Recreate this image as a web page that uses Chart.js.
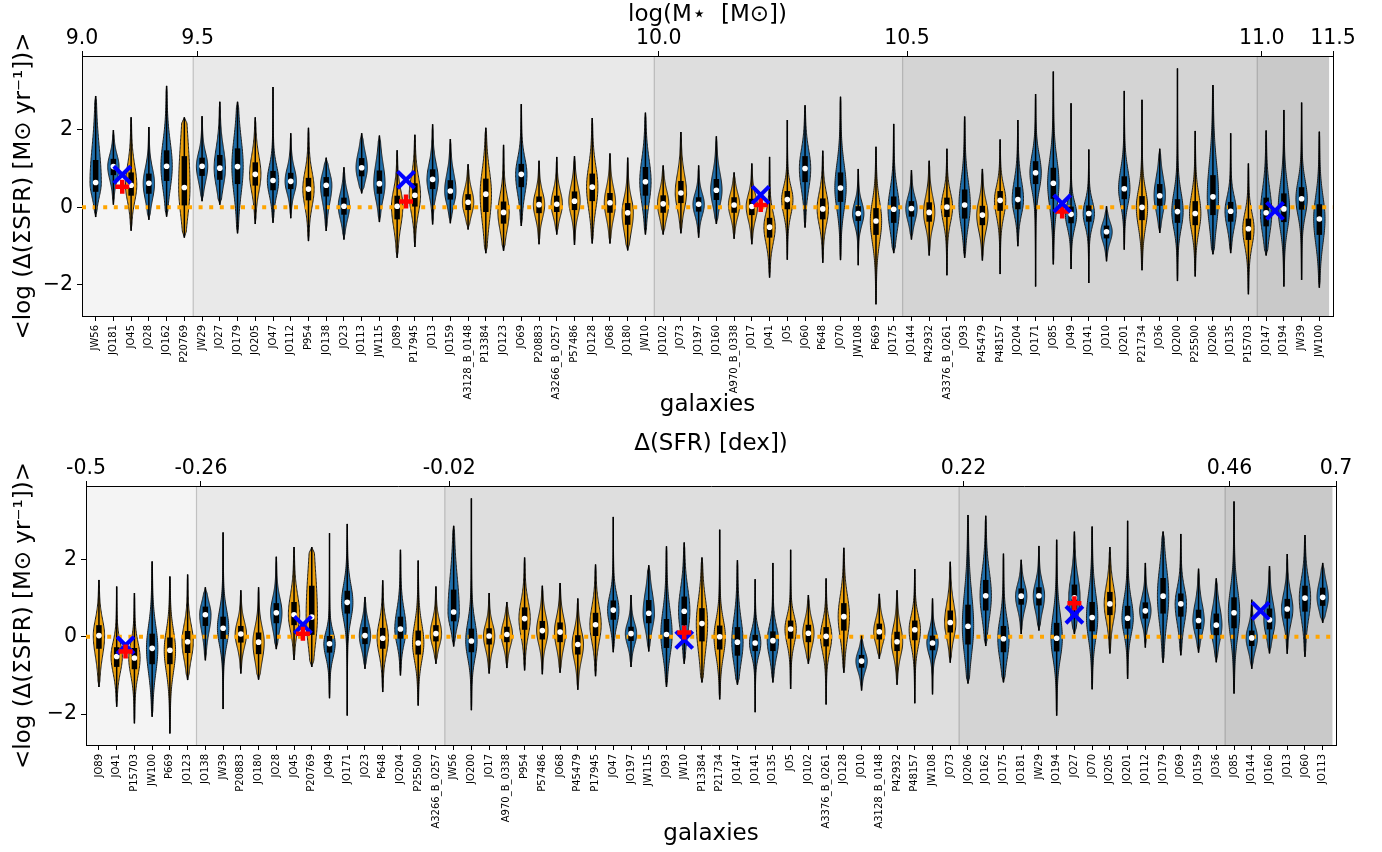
<!DOCTYPE html>
<html><head><meta charset="utf-8">
<script src="https://cdn.jsdelivr.net/npm/chart.js@4"></script>
<style>
html,body{margin:0;padding:0;background:#fff;overflow:hidden;}
#c1{position:absolute;left:0;top:0;}
#c2{position:absolute;left:0;top:425px;}
</style></head>
<body>
<canvas id="c1" width="1382" height="425"></canvas>
<canvas id="c2" width="1382" height="427"></canvas>
<script>
// ---------- DATA ----------
// galaxies ordered by stellar mass (top panel)
const galaxies = ['JW56','JO181','JO45','JO28','JO162','P20769','JW29','JO27','JO179','JO205','JO47','JO112','P954','JO138','JO23','JO113','JW115','JO89','P17945','JO13','JO159','A3128_B_0148','P13384','JO123','JO69','P20883','A3266_B_0257','P57486','JO128','JO68','JO180','JW10','JO102','JO73','JO197','JO160','A970_B_0338','JO17','JO41','JO5','JO60','P648','JO70','JW108','P669','JO175','JO144','P42932','A3376_B_0261','JO93','P45479','P48157','JO204','JO171','JO85','JO49','JO141','JO10','JO201','P21734','JO36','JO200','P25500','JO206','JO135','P15703','JO147','JO194','JW39','JW100'];
// galaxies ordered by Delta(SFR) (bottom panel)
const sfrOrder = ['JO89','JO41','P15703','JW100','P669','JO123','JO138','JW39','P20883','JO180','JO28','JO45','P20769','JO49','JO171','JO23','P648','JO204','P25500','A3266_B_0257','JW56','JO200','JO17','A970_B_0338','P954','P57486','JO68','P45479','P17945','JO47','JO197','JW115','JO93','JW10','P13384','P21734','JO147','JO141','JO135','JO5','JO102','A3376_B_0261','JO128','JO10','A3128_B_0148','P42932','P48157','JW108','JO73','JO206','JO162','JO175','JO181','JW29','JO194','JO27','JO70','JO205','JO201','JO112','JO179','JO69','JO159','JO36','JO85','JO144','JO160','JO13','JO60','JO113'];
// galaxies drawn in orange
const orangeGroup = ['JO45','P20769','JO205','P954','JO89','P17945','A3128_B_0148','P13384','JO123','P20883','A3266_B_0257','P57486','JO128','JO68','JO180','JO102','JO73','A970_B_0338','JO17','JO41','JO5','P648','P669','P42932','A3376_B_0261','P45479','P48157','P21734','P25500','P15703'];
// per-galaxy distribution of log Delta(Sigma SFR) (same order as `galaxies`)
const lo  = [-0.25,0.07,-0.60,-0.32,-0.24,-0.78,0.16,0.07,-0.67,-0.43, -0.40,-0.28,-0.87,-0.61,-0.83,0.36,-0.38,-1.30,-1.02,-0.44, -0.41,-0.57,-1.18,-1.12,-0.48,-0.95,-0.70,-0.97,-0.93,-0.93, -1.11,-0.70,-0.70,-0.67,-0.78,-0.43,-0.81,-0.95,-1.81,-1.35, -0.52,-1.43,-1.36,-1.49,-2.50,-1.18,-0.83,-1.24,-1.75,-1.30, -1.37,-1.72,-1.00,-2.04,-1.47,-1.59,-1.95,-1.39,-1.09,-1.62, -0.66,-1.90,-1.78,-1.21,-1.18,-2.24,-1.24,-2.04,-1.87,-2.07];
const q1  = [0.40,0.83,0.30,0.35,0.68,0.05,0.81,0.71,0.60,0.56, 0.44,0.47,0.18,0.28,-0.19,0.80,0.35,-0.31,0.02,0.47, 0.20,-0.07,-0.12,-0.42,0.52,-0.15,-0.12,-0.07,0.16,-0.14, -0.45,0.30,-0.14,0.11,-0.11,0.19,-0.14,-0.20,-0.78,-0.05, 0.65,-0.31,0.14,-0.35,-0.71,-0.40,-0.24,-0.37,-0.25,-0.29, -0.46,-0.09,-0.05,0.60,0.22,-0.41,-0.37,-0.80,0.21,-0.33, 0.04,-0.40,-0.46,-0.20,-0.37,-0.84,-0.49,-0.38,-0.06,-0.71];
const med = [0.64,1.05,0.57,0.62,1.06,0.51,1.06,1.01,1.05,0.85, 0.69,0.67,0.47,0.57,0.03,1.02,0.61,0.03,0.31,0.72, 0.42,0.13,0.34,-0.13,0.85,0.07,0.08,0.16,0.52,0.12, -0.14,0.66,0.09,0.37,0.08,0.44,0.06,0.02,-0.51,0.20, 1.00,-0.04,0.50,-0.16,-0.35,-0.05,-0.03,-0.13,0.01,0.06, -0.20,0.18,0.20,0.89,0.62,-0.18,-0.16,-0.63,0.48,0.00, 0.30,-0.11,-0.16,0.27,-0.10,-0.55,-0.14,-0.04,0.22,-0.30];
const q3  = [1.22,1.25,0.90,0.87,1.47,1.32,1.28,1.35,1.52,1.16, 0.94,0.89,0.76,0.78,0.25,1.27,0.95,0.30,0.62,0.98, 0.70,0.34,0.74,0.15,1.12,0.28,0.30,0.41,0.87,0.37, 0.11,1.04,0.31,0.68,0.26,0.73,0.26,0.22,-0.27,0.42, 1.32,0.23,0.90,0.03,-0.02,0.28,0.16,0.13,0.25,0.46, 0.04,0.42,0.52,1.19,1.02,0.02,0.05,-0.47,0.80,0.29, 0.60,0.21,0.16,0.83,0.14,-0.29,0.25,0.36,0.52,0.08];
const hi  = [2.87,1.99,2.32,2.07,3.13,2.32,2.35,2.72,2.72,2.32, 3.10,1.91,2.05,1.28,1.03,1.91,1.85,1.47,1.87,2.14, 1.76,1.11,2.05,1.61,2.66,1.20,1.30,1.32,2.30,1.39, 1.28,2.44,1.08,1.94,1.08,1.83,0.90,1.13,1.30,2.25, 2.63,1.46,2.85,0.99,1.56,2.15,0.96,1.20,1.51,2.34, 0.99,1.75,2.25,2.92,3.50,2.68,1.49,0.03,3.00,2.77, 1.51,3.58,1.97,3.15,1.91,1.13,1.98,2.51,2.70,1.95];
// secondary axes: bin edges (galaxy index) and labels
const massBinEdges = [5.5, 31.5, 45.5, 65.5];
const massTickLabels = ['9.0','9.5','10.0','10.5','11.0','11.5'];
const sfrBinEdges = [5.5, 19.5, 48.5, 63.5];
const sfrTickLabels = ['-0.5','-0.26','-0.02','0.22','0.46','0.7'];
// markers (position in galaxy index, value)
const massCrossX = [1.5, 17.5, 37.5, 54.5, 66.5];
const massCrossY = [0.84, 0.71, 0.32, 0.10, -0.09];
const massPlusX  = [1.5, 17.5, 37.5, 54.5];
const massPlusY  = [0.53, 0.15, 0.06, -0.11];
const sfrCrossX  = [1.5, 11.5, 33, 55, 65.5];
const sfrCrossY  = [-0.22, 0.31, -0.08, 0.57, 0.67];
const sfrPlusX   = [1.5, 11.5, 33, 55];
const sfrPlusY   = [-0.38, 0.08, 0.11, 0.87];
const yTicks = [-2, 0, 2];

// ---------- STYLE ----------
Chart.defaults.font.family = "'DejaVu Sans', sans-serif";
Chart.defaults.color = '#000';
const BLUE = '#1f6eaa', ORANGE = '#eba00c';
const SHADES = ['#f4f4f4','#e9e9e9','#dedede','#d4d4d4','#c9c9c9'];
const HALFW = 0.32;
const YMIN = -2.8, YMAX = 3.9;
const YTITLE = '<log (\u0394(\u03A3SFR) [M\u2299 yr\u207B\u00B9])>';

function makeViolinPlugin(stats, colors, edges, shadeEnd) {
  return {
    id: 'violinBodies',
    beforeDraw(chart) {
      const {ctx, chartArea: ca, scales: {x}} = chart;
      const e = [x.min, ...edges, shadeEnd];
      ctx.save();
      for (let k = 0; k < e.length - 1; k++) {
        const x0 = x.getPixelForValue(e[k]), x1 = x.getPixelForValue(e[k + 1]);
        ctx.fillStyle = SHADES[k];
        ctx.fillRect(x0, ca.top, x1 - x0, ca.bottom - ca.top);
      }
      ctx.strokeStyle = 'rgba(0,0,0,0.2)'; ctx.lineWidth = 1.2;
      edges.forEach(b => {
        const px = x.getPixelForValue(b);
        ctx.beginPath(); ctx.moveTo(px, ca.top); ctx.lineTo(px, ca.bottom); ctx.stroke();
      });
      ctx.restore();
    },
    beforeDatasetsDraw(chart) {
      const {ctx, chartArea: ca, scales: {x, y}} = chart;
      ctx.save();
      ctx.beginPath(); ctx.rect(ca.left, ca.top, ca.width, ca.height); ctx.clip();
      stats.forEach((s, i) => {
        const [l, a, m, b, h] = s;
        const sl = Math.max((m - a) / 0.6745, 0.04), sh = Math.max((b - m) / 0.6745, 0.04);
        const N = 90, prof = [];
        for (let k = 0; k <= N; k++) {
          const v = l + (h - l) * k / N;
          const z = (v - m) / (v < m ? sl : sh);
          let w = HALFW * (0.82 * Math.exp(-0.5 * z * z) + 0.18 * Math.exp(-0.5 * (z / 2.4) * (z / 2.4)));
          w *= Math.max(0, Math.min(1, (v - l) / 0.15, (h - v) / 0.15));
          prof.push([v, w]);
        }
        ctx.beginPath();
        prof.forEach(([v, w], k) => {
          const px = x.getPixelForValue(i + w), py = y.getPixelForValue(v);
          if (k) ctx.lineTo(px, py); else ctx.moveTo(px, py);
        });
        for (let k = prof.length - 1; k >= 0; k--) {
          const [v, w] = prof[k];
          ctx.lineTo(x.getPixelForValue(i - w), y.getPixelForValue(v));
        }
        ctx.closePath();
        ctx.fillStyle = colors[i]; ctx.fill();
        ctx.strokeStyle = '#1c1c1c'; ctx.lineWidth = 1; ctx.stroke();
      });
      ctx.restore();
    }
  };
}

function makeChart(id, cfg) {
  const rows = cfg.order.map(n => galaxies.indexOf(n));
  const pick = arr => rows.map(r => arr[r]);
  const L = pick(lo), A = pick(q1), M = pick(med), B = pick(q3), H = pick(hi);
  const stats = L.map((_, i) => [L[i], A[i], M[i], B[i], H[i]]);
  const colors = cfg.order.map(n => orangeGroup.includes(n) ? ORANGE : BLUE);
  const topPos = [cfg.xmin, ...cfg.edges.map(e => e + 0.25), cfg.xmax];

  return new Chart(document.getElementById(id), {
    type: 'bar',
    data: {
      datasets: [
        { type: 'line', data: [{x: cfg.xmin, y: 0}, {x: cfg.xmax, y: 0}], borderColor: '#ffa500',
          borderWidth: 4, borderDash: [4, 6.6], borderCapStyle: 'butt', pointRadius: 0, order: 6 },
        { type: 'bar', data: L.map((v, i) => ({x: i, y: [L[i], H[i]]})), backgroundColor: '#000',
          grouped: false, maxBarThickness: 1.5, borderWidth: 0, inflateAmount: 0, order: 5 },
        { type: 'bar', data: A.map((v, i) => ({x: i, y: [A[i], B[i]]})), backgroundColor: '#000',
          grouped: false, maxBarThickness: 5.5, borderWidth: 0, inflateAmount: 0, order: 4 },
        { type: 'scatter', data: M.map((v, i) => ({x: i, y: v})), pointRadius: 2.8,
          pointBackgroundColor: '#fff', pointBorderWidth: 0, order: 3 },
        { type: 'scatter', data: cfg.plusX.map((v, i) => ({x: v, y: cfg.plusY[i]})), pointStyle: 'cross',
          pointRadius: 7, pointBorderColor: '#ff0000', pointBackgroundColor: '#ff0000', pointBorderWidth: 4.5,
          order: cfg.plusOnTop ? 0 : 1 },
        { type: 'scatter', data: cfg.crossX.map((v, i) => ({x: v, y: cfg.crossY[i]})), pointStyle: 'crossRot',
          pointRadius: 12, pointBorderColor: '#0000ff', pointBackgroundColor: '#0000ff', pointBorderWidth: 4,
          order: cfg.plusOnTop ? 1 : 0 }
      ]
    },
    options: {
      responsive: false, animation: false, devicePixelRatio: 1,
      layout: { padding: { left: 0, right: cfg.rightPad, top: 0, bottom: 0 } },
      plugins: { legend: { display: false }, tooltip: { enabled: false } },
      scales: {
        x: {
          type: 'linear', position: 'bottom', min: cfg.xmin, max: cfg.xmax, bounds: 'data', offset: false,
          afterBuildTicks: s => { s.ticks = cfg.order.map((_, i) => ({value: i})); },
          afterFit: s => { s.height = cfg.bottomH; },
          ticks: { autoSkip: false, minRotation: 90, maxRotation: 90, padding: 4, font: {size: 10},
                   callback: v => cfg.order[Math.round(v)] },
          grid: { drawOnChartArea: false, drawTicks: true, tickLength: 5, color: '#000', offset: false },
          border: { display: true, color: '#000', width: 1 },
          title: { display: true, text: 'galaxies', font: {size: 23}, padding: {top: 0, bottom: cfg.galPad} }
        },
        x2: {
          type: 'linear', axis: 'x', position: 'top', min: cfg.xmin, max: cfg.xmax, bounds: 'data', offset: false,
          afterBuildTicks: s => { s.ticks = topPos.map(v => ({value: v})); },
          afterFit: s => { s.height = cfg.topH; },
          ticks: { autoSkip: false, minRotation: 0, maxRotation: 0, padding: 0, font: {size: 20.5},
                   callback: (v, i) => cfg.topLabels[i] },
          grid: { drawOnChartArea: false, drawTicks: true, tickLength: 5, color: '#000', offset: false },
          border: { display: true, color: '#000', width: 1 },
          title: { display: true, text: cfg.topTitle, font: {size: 23}, padding: {top: cfg.topTitlePad, bottom: 0} }
        },
        y: {
          type: 'linear', position: 'left', min: YMIN, max: YMAX, bounds: 'data',
          afterBuildTicks: s => { s.ticks = yTicks.map(v => ({value: v})); },
          afterFit: s => { s.width = cfg.leftW; },
          ticks: { padding: 4, font: {size: 20.5}, callback: v => v < 0 ? '\u2212' + Math.abs(v) : String(v) },
          grid: { drawOnChartArea: false, drawTicks: true, tickLength: 5, color: '#000' },
          border: { display: true, color: '#000', width: 1 },
          title: { display: true, text: YTITLE, font: {size: 23}, padding: {top: 10.5, bottom: 0} }
        },
        yr: {
          type: 'linear', axis: 'y', position: 'right', min: YMIN, max: YMAX,
          ticks: { display: false }, grid: { drawOnChartArea: false, drawTicks: false },
          border: { display: true, color: '#000', width: 1 },
          afterFit: s => { s.width = 0; }
        }
      }
    },
    plugins: [makeViolinPlugin(stats, colors, cfg.edges, 69.55)]
  });
}

makeChart('c1', {
  order: galaxies, xmin: -0.77, xmax: 69.77, edges: massBinEdges, topLabels: massTickLabels,
  topTitle: 'log(M\u22C6  [M\u2299])', topTitlePad: 1, topH: 56, bottomH: 109, leftW: 82, rightPad: 49, galPad: 6,
  crossX: massCrossX, crossY: massCrossY, plusX: massPlusX, plusY: massPlusY, plusOnTop: false
});
makeChart('c2', {
  order: sfrOrder, xmin: -0.73, xmax: 69.75, edges: sfrBinEdges, topLabels: sfrTickLabels,
  topTitle: '\u0394(SFR) [dex])', topTitlePad: 5, topH: 61, bottomH: 107, leftW: 86, rightPad: 46, galPad: 4,
  crossX: sfrCrossX, crossY: sfrCrossY, plusX: sfrPlusX, plusY: sfrPlusY, plusOnTop: true
});
</script>
</body></html>
